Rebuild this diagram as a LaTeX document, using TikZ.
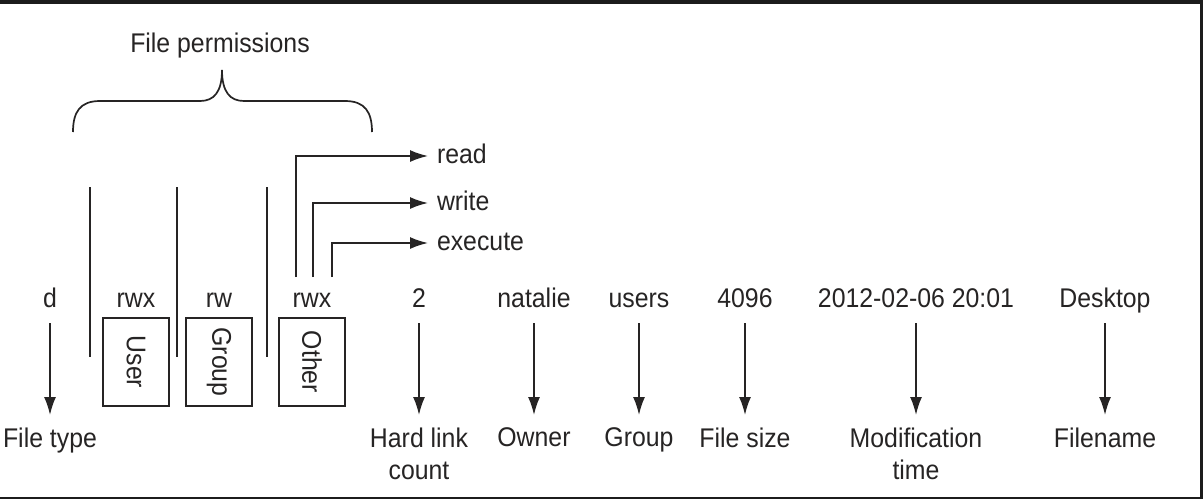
\documentclass[tikz,border=0pt]{standalone}
\usepackage{fontspec}
\setmainfont{Liberation Sans}[FakeStretch=0.92]
\usetikzlibrary{arrows.meta}
\definecolor{ink}{HTML}{262424}
\definecolor{frame}{HTML}{1C1C1C}

\begin{document}
\begin{tikzpicture}[x=1pt, y=-1pt, line width=1.7pt, draw=ink, text=ink,
    font=\fontsize{27}{32}\selectfont,
    val/.style={anchor=base, inner sep=0pt, text height=20pt, text depth=6pt, outer ysep=10pt},
    lab/.style={anchor=north, inner sep=0pt, outer ysep=13pt, align=center},
    bit/.style={anchor=base west, inner sep=0pt, text height=16pt, text depth=2pt, outer xsep=9pt},
    who/.style={draw, line width=1.6pt, inner sep=0pt, minimum width=66pt, minimum height=88pt},
    arr/.style={-{Latex[length=18pt, width=12pt]}}]
    \useasboundingbox (0,0) rectangle (1203,499);
    \fill[frame] (0,0) rectangle (1203,499);
    \fill[white] (0,3.5) rectangle (1199.5,496.5);
    \begin{scope}
      \node[anchor=base] (perm) at (220,52) {File permissions};
      \draw (73,132) .. controls (73,112) and (80,101) .. (100,101) -- (200,101)
        .. controls (214,101) and (222,92) .. (222,70)
        .. controls (222,92) and (230,101) .. (244,101) -- (345,101)
        .. controls (365,101) and (372,112) .. (372,132);
      \foreach \x in {90,177,267} {
        \draw (\x,187) -- (\x,357);
      }
      \node[val] (d) at (50,307) {d};
      \node[val] (urwx) at (136,307) {rwx};
      \node[val] (grwx) at (219,307) {rw};
      \node[val] (orwx) at (312,307) {rwx};
      \node[val] (links) at (419,307) {2};
      \node[val] (owner) at (534,307) {natalie};
      \node[val] (group) at (639,307) {users};
      \node[val] (size) at (745,307) {4096};
      \node[val] (mtime) at (916,307) {2012-02-06 20:01};
      \node[val] (fname) at (1105,307) {Desktop};
      \node[who] (user) at (136,362) {\rotatebox{-90}{User}};
      \node[who] (grp) at (219,362) {\rotatebox{-90}{Group}};
      \node[who] (other) at (312,362) {\rotatebox{-90}{Other}};
      \node[bit] (read) at (428,163) {read};
      \node[bit] (write) at (428,210) {write};
      \node[bit] (exec) at (428,250) {execute};
      \draw[arr] ([xshift=-16pt]orwx.north) |- (read.west);
      \draw[arr] ([xshift=1pt]orwx.north) |- (write.west);
      \draw[arr] ([xshift=20pt]orwx.north) |- (exec.west);
      \node[lab] (ftype) at (50,415) {File type};
      \node[lab] (hlink) at (419,415) {Hard link\\count};
      \node[lab] (lowner) at (534,415) {Owner};
      \node[lab] (lgroup) at (639,415) {Group};
      \node[lab] (lsize) at (745,415) {File size};
      \node[lab] (lmtime) at (916,415) {Modification\\time};
      \node[lab] (lfname) at (1105,415) {Filename};
      \foreach \v/\l in {d/ftype, links/hlink, owner/lowner, group/lgroup, size/lsize, mtime/lmtime, fname/lfname} {
        \draw[arr] (\v.south) -- (\l.north);
      }
    \end{scope}
  \end{tikzpicture}
\end{document}
